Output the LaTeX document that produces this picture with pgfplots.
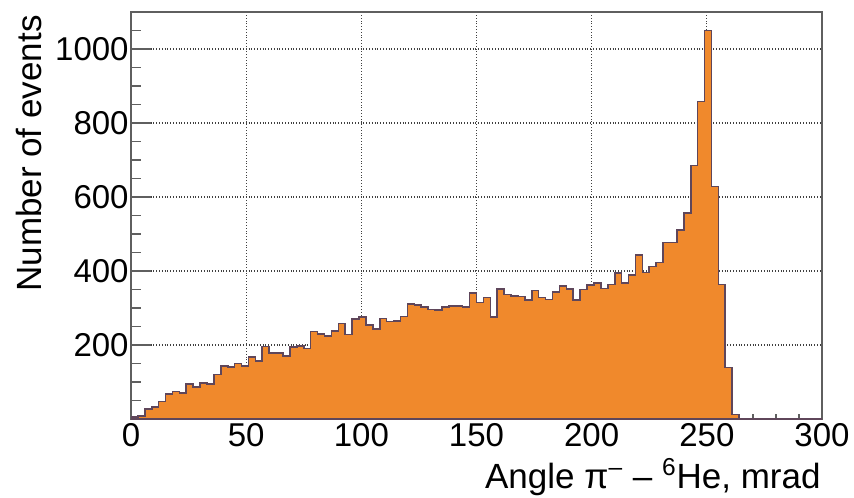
\documentclass[border=0pt]{standalone}
\usepackage{pgfplots}
\pgfplotsset{compat=1.18}
\usepackage{pgfplotstable}
\usepackage{fontspec}
\setmainfont{Liberation Sans}
\definecolor{histfill}{RGB}{240,137,44}
\definecolor{histline}{RGB}{95,70,90}
\definecolor{framegray}{RGB}{95,95,95}
\pgfplotsset{layers/histlayers/.define layer set={axis background,axis grid,pre main,main,axis ticks,axis lines,axis tick labels,axis descriptions,axis foreground}{}}
\pgfplotstableread{
x y
0 5
3 8
6 27
9 32
12 47
15 67
18 74
21 70
24 95
27 87
30 97
33 95
36 120
39 143
42 140
45 150
48 143
51 168
54 157
57 196
60 178
63 178
66 170
69 195
72 198
75 190
78 237
81 230
84 225
87 238
90 258
93 228
96 270
99 275
102 254
105 243
108 272
111 263
114 265
117 277
120 310
123 308
126 302
129 296
132 295
135 302
138 305
141 305
144 303
147 340
150 315
153 328
156 275
159 352
162 337
165 333
168 331
171 322
174 347
177 328
180 323
183 344
186 359
189 352
192 322
195 350
198 362
201 367
204 353
207 364
210 394
213 367
216 389
219 443
222 396
225 412
228 423
231 477
234 477
237 511
240 556
243 685
246 858
249 1050
252 628
255 364
258 139
261 12
264 0
300 0
}\histdata
\begin{document}
\begin{tikzpicture}
\begin{axis}[
  set layers=histlayers,
  scale only axis,
  width=345.5pt, height=203.5pt,
  xmin=0, xmax=300, ymin=0, ymax=1100,
  xtick={0,50,...,300},
  ytick={200,400,...,1000},
  minor xtick={10,20,...,290},
  minor ytick={50,100,...,1050},
  tick align=inside,
  xtick pos=bottom, ytick pos=left,
  xtick style={/pgfplots/major tick length=5pt,/pgfplots/minor tick length=2.5pt,color=framegray,line width=0.8pt},
  ytick style={/pgfplots/major tick length=10pt,/pgfplots/minor tick length=5pt,color=framegray,line width=0.8pt},
  axis line style={framegray,line width=1pt},
  grid=major,
  major grid style={densely dotted,black!75,line width=0.6pt},
  /pgf/number format/assume math mode=true,
  /pgf/number format/1000 sep={},
  ticklabel style={font=\fontsize{16.5}{18}\selectfont},
  yticklabel style={inner sep=1pt},
  xticklabel style={inner sep=1pt, yshift=-1pt},
]
\addplot[const plot, fill=histfill, draw=histline, line width=0.8pt] table[x=x,y=y]{\histdata} \closedcycle;
\end{axis}
\node[rotate=90, anchor=east, inner sep=0pt, font=\fontsize{17.5}{19}\selectfont] at (-51pt,202pt) {Number of events};
\node[anchor=base east, inner sep=0pt, font=\fontsize{17.5}{19}\selectfont] at (345pt,-34.5pt) {Angle π\textsuperscript{–} – \textsuperscript{6}He, mrad};
\pgfresetboundingbox
\useasboundingbox (-65.5pt,-39pt) rectangle (361.5pt,209.5pt);
\end{tikzpicture}
\end{document}
